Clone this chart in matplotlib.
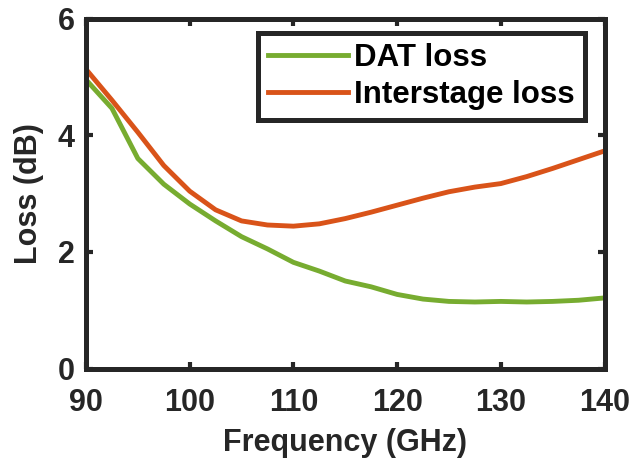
import matplotlib
matplotlib.use("Agg")
import matplotlib.pyplot as plt

freq = [90, 92.5, 95, 97.5, 100, 102.5, 105, 107.5, 110, 112.5, 115, 117.5,
        120, 122.5, 125, 127.5, 130, 132.5, 135, 137.5, 140]
dat_loss = [4.95, 4.46, 3.60, 3.16, 2.82, 2.53, 2.26, 2.05, 1.82, 1.67, 1.50, 1.40,
            1.27, 1.19, 1.15, 1.14, 1.15, 1.14, 1.15, 1.17, 1.21]
inter_loss = [5.13, 4.60, 4.05, 3.48, 3.04, 2.72, 2.53, 2.46, 2.44, 2.48, 2.57, 2.68,
              2.80, 2.92, 3.03, 3.11, 3.17, 3.29, 3.43, 3.58, 3.73]
xticks = [90, 100, 110, 120, 130, 140]
yticks = [0, 2, 4, 6]

plt.rcParams['font.family'] = ['Liberation Sans', 'DejaVu Sans']
plt.rcParams['font.weight'] = 'bold'

W, H = 631, 462
L, R, T, B = 86, 604.5, 18.5, 368.5
fig = plt.figure(figsize=(W / 100, H / 100), dpi=100)
ax = fig.add_axes([L / W, 1 - B / H, (R - L) / W, (B - T) / H])

axc = '#262626'
ax.plot(freq, dat_loss, color='#77AC30', lw=3.5, label='DAT loss')
ax.plot(freq, inter_loss, color='#D95319', lw=3.5, label='Interstage loss')

ax.set_xlim(90, 140)
ax.set_ylim(0, 6)
ax.set_xticks(xticks)
ax.set_yticks(yticks)
ax.tick_params(direction='in', length=5, width=3, colors=axc,
               labelsize=22, top=True, right=True, labelcolor='#262626')
ax.tick_params(axis='x', pad=14)
ax.tick_params(axis='y', pad=8)
for s in ax.spines.values():
    s.set_linewidth(3.6)
    s.set_color(axc)

ax.set_xlabel('Frequency (GHz)', fontsize=22, fontweight='bold', color='#262626', labelpad=7)
ax.set_ylabel('Loss (dB)', fontsize=22, fontweight='bold', color='#262626', labelpad=10)

leg = ax.legend(loc='upper right', bbox_to_anchor=((585 - L) / (R - L), (B - 33) / (B - T)),
                borderaxespad=0, fontsize=22.5, handlelength=2.55, handletextpad=0.22,
                labelspacing=0.22, borderpad=0.32, fancybox=False, framealpha=1)
leg.get_frame().set_edgecolor(axc)
leg.get_frame().set_linewidth(3.6)
for t in leg.get_texts():
    t.set_color('black')

fig.savefig('out.png', dpi=100)
